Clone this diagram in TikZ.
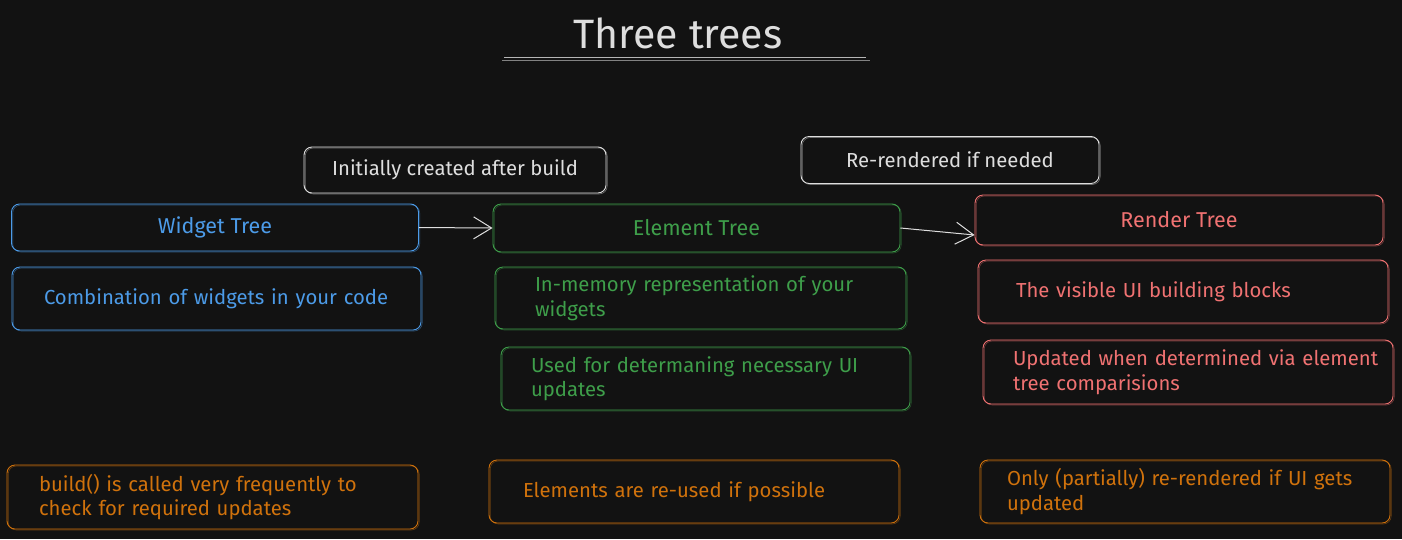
\documentclass[tikz,border=0pt]{standalone}
\usepackage{fontspec}
\setmainfont{Fira Sans}
\usetikzlibrary{arrows.meta}
\definecolor{bgdark}{HTML}{121212}
\definecolor{inkwhite}{HTML}{DEDEDE}
\definecolor{inkblue}{HTML}{4C9BE8}
\definecolor{inkgreen}{HTML}{3E9E4A}
\definecolor{inkred}{HTML}{F07272}
\definecolor{inkorange}{HTML}{D0720C}
\tikzset{
	sketch/.style={draw=#1, text=#1, line width=0.9pt, rounded corners=8pt,
		preaction={draw=#1, opacity=0.45, line width=0.6pt, transform canvas={shift={(1.2pt,-1pt)}}}},
	headbox/.style={sketch=#1, minimum width=407pt, minimum height=47pt, font=\fontsize{21.5}{25}\selectfont},
	notebox/.style={sketch=#1, minimum height=63pt, align=left, font=\fontsize{20.3}{24.5}\selectfont},
	flow/.style={draw=inkwhite, line width=1pt, -{Straight Barb[length=18pt,width=22pt]}},
}
\begin{document}
\begin{tikzpicture}[x=1pt,y=1pt]
	\fill [bgdark] (0,0) rectangle (1402,-539);
	\useasboundingbox (0,0) rectangle (1402,-539);
	% title
	\node [text=inkwhite, font=\fontsize{41}{46}\selectfont] (title) at (678,-33) {Three trees};
	\draw [inkwhite!80!bgdark, line width=0.8pt] (504,-57) -- (866,-57);
	\draw [inkwhite!55!bgdark, line width=0.8pt] (502,-60) -- (870,-60);
	% notes above arrows
	\node [headbox=inkwhite, minimum width=302pt, minimum height=46pt, font=\fontsize{20.3}{24.5}\selectfont] (initial) at (455,-170) {Initially created after build};
	\node [headbox=inkwhite, minimum width=298pt, font=\fontsize{20.3}{24.5}\selectfont] (rerender) at (950,-160) {Re-rendered if needed};
	% trees
	\node [headbox=inkblue] (widget) at (215,-227.5) {Widget Tree};
	\node [headbox=inkgreen, minimum height=48pt] (element) at (696.5,-228) {Element Tree};
	\node [headbox=inkred, minimum width=408pt, minimum height=50pt] (render) at (1179,-220) {Render Tree};
	\draw [flow] (widget.east) -- (element.west);
	\draw [flow] (element.east) -- ([yshift=-15pt]render.west);
	% widget column
	\node [notebox=inkblue, inner xsep=32pt, text width=345pt] (combo) at (216.5,-298.5) {Combination of widgets in your code};
	\node [notebox=inkorange, inner xsep=32pt, text width=347pt, minimum height=64pt] (build) at (212.5,-497) {build() is called very frequently to\\check for required updates};
	% element column
	\node [notebox=inkgreen, inner xsep=40pt, text width=331pt, minimum height=62pt] (inmem) at (700.5,-298) {In-memory representation of your\\widgets};
	\node [notebox=inkgreen, inner xsep=30pt, text width=349pt] (used) at (705.5,-378.5) {Used for determaning necessary UI\\updates};
	\node [notebox=inkorange, inner xsep=34pt, text width=342pt] (reused) at (694,-491.5) {Elements are re-used if possible};
	% render column
	\node [notebox=inkred, inner xsep=38pt, text width=334pt] (visible) at (1183,-291.5) {The visible UI building blocks};
	\node [notebox=inkred, inner xsep=30pt, text width=350pt, minimum height=64pt] (updated) at (1188,-372) {\mbox{Updated when determined via element}\\tree comparisions};
	\node [notebox=inkorange, inner xsep=27pt, text width=356pt] (only) at (1185,-491.5) {Only (partially) re-rendered if UI gets\\updated};
\end{tikzpicture}
\end{document}
